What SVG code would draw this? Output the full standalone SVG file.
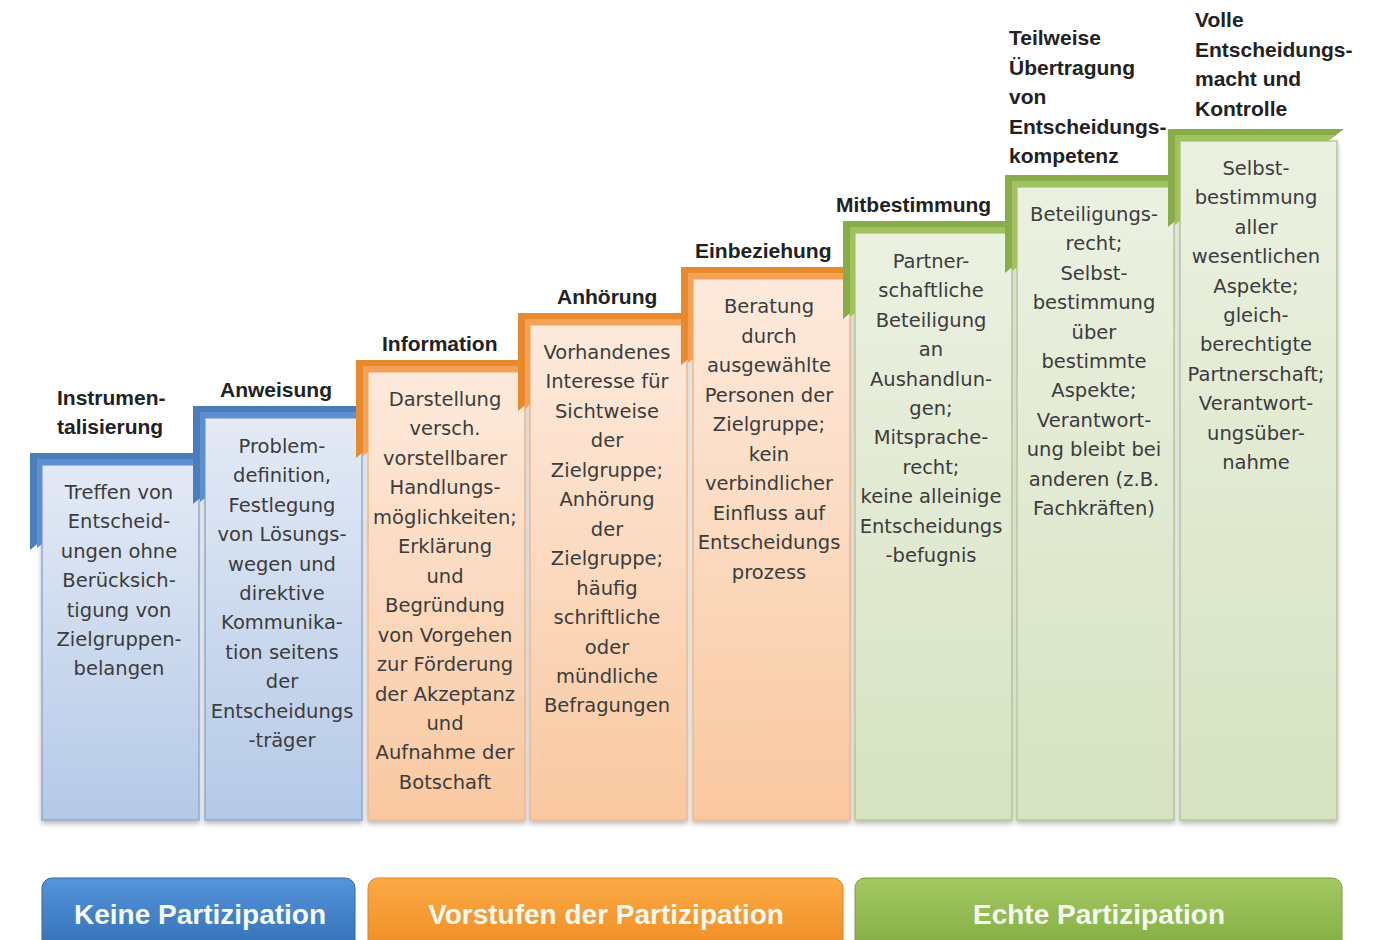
<svg xmlns="http://www.w3.org/2000/svg" width="1379" height="940" viewBox="0 0 1379 940">
  <defs>
    <linearGradient id="boxBlue" x1="0" y1="0" x2="0" y2="1">
      <stop offset="0" stop-color="#e3eaf5"/>
      <stop offset="1" stop-color="#b5c9e7"/>
    </linearGradient>
    <linearGradient id="boxOrange" x1="0" y1="0" x2="0" y2="1">
      <stop offset="0" stop-color="#fdeadc"/>
      <stop offset="1" stop-color="#f9c8a0"/>
    </linearGradient>
    <linearGradient id="boxGreen" x1="0" y1="0" x2="0" y2="1">
      <stop offset="0" stop-color="#ebf1e1"/>
      <stop offset="1" stop-color="#d6e2c2"/>
    </linearGradient>
    <linearGradient id="btnBlue" x1="0" y1="0" x2="0" y2="1">
      <stop offset="0" stop-color="#5595da"/>
      <stop offset="1" stop-color="#2f6cb3"/>
    </linearGradient>
    <linearGradient id="btnOrange" x1="0" y1="0" x2="0" y2="1">
      <stop offset="0" stop-color="#fbaa45"/>
      <stop offset="1" stop-color="#ef8a20"/>
    </linearGradient>
    <linearGradient id="btnGreen" x1="0" y1="0" x2="0" y2="1">
      <stop offset="0" stop-color="#a4c963"/>
      <stop offset="1" stop-color="#7eaa3d"/>
    </linearGradient>
    <filter id="shadow" x="-10%" y="-10%" width="120%" height="120%">
      <feDropShadow dx="0" dy="3" stdDeviation="2.5" flood-color="#000" flood-opacity="0.28"/>
    </filter>
  </defs>
  <style>
    .body { font-family: "DejaVu Sans", "Liberation Sans", sans-serif; font-size: 19.5px; fill: #3c3c3c; text-anchor: middle; }
    .head { font-family: "Liberation Sans", Arial, sans-serif; font-size: 21px; font-weight: bold; fill: #222; }
    .btn { font-family: "Liberation Sans", Arial, sans-serif; font-size: 28px; font-weight: bold; fill: #f6f8f2; text-anchor: middle; }
    .bBlue { fill: url(#boxBlue); stroke: #8faad2; stroke-width: 1.5; }
    .bOrange { fill: url(#boxOrange); stroke: #efb88c; stroke-width: 1.5; }
    .bGreen { fill: url(#boxGreen); stroke: #b4c98f; stroke-width: 1.5; }
    .fBlueA { fill: #4a7dbd; } .fBlueB { fill: #5e90cf; }
    .fOrangeA { fill: #e8892c; } .fOrangeB { fill: #f3a257; }
    .fGreenA { fill: #88ad46; } .fGreenB { fill: #a0c261; }
  </style>

  <!-- Step 1: Instrumentalisierung -->
  <g id="step1">
    <rect class="bBlue" x="42" y="465" width="157" height="355" filter="url(#shadow)"/>
    <polygon class="fBlueA" points="30,453 205,453 200,465 42,465 42,540 30,550"/>
    <polygon class="fBlueB" points="37,459 202,459 200,465 42,465 42,544 37,548"/>
    <text class="head" x="57" y="405">Instrumen-<tspan x="57" dy="29">talisierung</tspan></text>
    <text class="body" x="119" y="499">Treffen von<tspan x="119" dy="29.4">Entscheid-</tspan><tspan x="119" dy="29.4">ungen ohne</tspan><tspan x="119" dy="29.4">Berücksich-</tspan><tspan x="119" dy="29.4">tigung von</tspan><tspan x="119" dy="29.4">Zielgruppen-</tspan><tspan x="119" dy="29.4">belangen</tspan></text>
  </g>

  <!-- Step 2: Anweisung -->
  <g id="step2">
    <rect class="bBlue" x="205" y="418" width="157" height="402" filter="url(#shadow)"/>
    <polygon class="fBlueA" points="193,406 367,406 362,418 205,418 205,494 193,504"/>
    <polygon class="fBlueB" points="200,412 364,412 362,418 205,418 205,498 200,502"/>
    <text class="head" x="220" y="397">Anweisung</text>
    <text class="body" x="282" y="453">Problem-<tspan x="282" dy="29.4">definition,</tspan><tspan x="282" dy="29.4">Festlegung</tspan><tspan x="282" dy="29.4">von Lösungs-</tspan><tspan x="282" dy="29.4">wegen und</tspan><tspan x="282" dy="29.4">direktive</tspan><tspan x="282" dy="29.4">Kommunika-</tspan><tspan x="282" dy="29.4">tion seitens</tspan><tspan x="282" dy="29.4">der</tspan><tspan x="282" dy="29.4">Entscheidungs</tspan><tspan x="282" dy="29.4">-träger</tspan></text>
  </g>

  <!-- Step 3: Information -->
  <g id="step3">
    <rect class="bOrange" x="368" y="372" width="157" height="448" filter="url(#shadow)"/>
    <polygon class="fOrangeA" points="356,360 530,360 525,372 368,372 368,448 356,458"/>
    <polygon class="fOrangeB" points="363,366 527,366 525,372 368,372 368,452 363,456"/>
    <text class="head" x="382" y="351">Information</text>
    <text class="body" x="445" y="406">Darstellung<tspan x="445" dy="29.45">versch.</tspan><tspan x="445" dy="29.45">vorstellbarer</tspan><tspan x="445" dy="29.45">Handlungs-</tspan><tspan x="445" dy="29.45">möglichkeiten;</tspan><tspan x="445" dy="29.45">Erklärung</tspan><tspan x="445" dy="29.45">und</tspan><tspan x="445" dy="29.45">Begründung</tspan><tspan x="445" dy="29.45">von Vorgehen</tspan><tspan x="445" dy="29.45">zur Förderung</tspan><tspan x="445" dy="29.45">der Akzeptanz</tspan><tspan x="445" dy="29.45">und</tspan><tspan x="445" dy="29.45">Aufnahme der</tspan><tspan x="445" dy="29.45">Botschaft</tspan></text>
  </g>

  <!-- Step 4: Anhörung -->
  <g id="step4">
    <rect class="bOrange" x="530" y="325" width="157" height="495" filter="url(#shadow)"/>
    <polygon class="fOrangeA" points="518,313 692,313 687,325 530,325 530,401 518,411"/>
    <polygon class="fOrangeB" points="525,319 689,319 687,325 530,325 530,405 525,409"/>
    <text class="head" x="557" y="304">Anhörung</text>
    <text class="body" x="607" y="359">Vorhandenes<tspan x="607" dy="29.45">Interesse für</tspan><tspan x="607" dy="29.45">Sichtweise</tspan><tspan x="607" dy="29.45">der</tspan><tspan x="607" dy="29.45">Zielgruppe;</tspan><tspan x="607" dy="29.45">Anhörung</tspan><tspan x="607" dy="29.45">der</tspan><tspan x="607" dy="29.45">Zielgruppe;</tspan><tspan x="607" dy="29.45">häufig</tspan><tspan x="607" dy="29.45">schriftliche</tspan><tspan x="607" dy="29.45">oder</tspan><tspan x="607" dy="29.45">mündliche</tspan><tspan x="607" dy="29.45">Befragungen</tspan></text>
  </g>

  <!-- Step 5: Einbeziehung -->
  <g id="step5">
    <rect class="bOrange" x="693" y="279" width="157" height="541" filter="url(#shadow)"/>
    <polygon class="fOrangeA" points="681,267 855,267 850,279 693,279 693,355 681,365"/>
    <polygon class="fOrangeB" points="688,273 852,273 850,279 693,279 693,359 688,363"/>
    <text class="head" x="695" y="258">Einbeziehung</text>
    <text class="body" x="769" y="313">Beratung<tspan x="769" dy="29.5">durch</tspan><tspan x="769" dy="29.5">ausgewählte</tspan><tspan x="769" dy="29.5">Personen der</tspan><tspan x="769" dy="29.5">Zielgruppe;</tspan><tspan x="769" dy="29.5">kein</tspan><tspan x="769" dy="29.5">verbindlicher</tspan><tspan x="769" dy="29.5">Einfluss auf</tspan><tspan x="769" dy="29.5">Entscheidungs</tspan><tspan x="769" dy="29.5">prozess</tspan></text>
  </g>

  <!-- Step 6: Mitbestimmung -->
  <g id="step6">
    <rect class="bGreen" x="855" y="233" width="157" height="587" filter="url(#shadow)"/>
    <polygon class="fGreenA" points="843,221 1017,221 1012,233 855,233 855,309 843,319"/>
    <polygon class="fGreenB" points="850,227 1014,227 1012,233 855,233 855,313 850,317"/>
    <text class="head" x="836" y="212">Mitbestimmung</text>
    <text class="body" x="931" y="268">Partner-<tspan x="931" dy="29.4">schaftliche</tspan><tspan x="931" dy="29.4">Beteiligung</tspan><tspan x="931" dy="29.4">an</tspan><tspan x="931" dy="29.4">Aushandlun-</tspan><tspan x="931" dy="29.4">gen;</tspan><tspan x="931" dy="29.4">Mitsprache-</tspan><tspan x="931" dy="29.4">recht;</tspan><tspan x="931" dy="29.4">keine alleinige</tspan><tspan x="931" dy="29.4">Entscheidungs</tspan><tspan x="931" dy="29.4">-befugnis</tspan></text>
  </g>

  <!-- Step 7: Teilweise Übertragung von Entscheidungskompetenz -->
  <g id="step7">
    <rect class="bGreen" x="1017" y="187" width="157" height="633" filter="url(#shadow)"/>
    <polygon class="fGreenA" points="1005,175 1179,175 1174,187 1017,187 1017,263 1005,273"/>
    <polygon class="fGreenB" points="1012,181 1176,181 1174,187 1017,187 1017,267 1012,271"/>
    <text class="head" x="1009" y="45">Teilweise<tspan x="1009" dy="29.5">Übertragung</tspan><tspan x="1009" dy="29.5">von</tspan><tspan x="1009" dy="29.5">Entscheidungs-</tspan><tspan x="1009" dy="29.5">kompetenz</tspan></text>
    <text class="body" x="1094" y="221">Beteiligungs-<tspan x="1094" dy="29.4">recht;</tspan><tspan x="1094" dy="29.4">Selbst-</tspan><tspan x="1094" dy="29.4">bestimmung</tspan><tspan x="1094" dy="29.4">über</tspan><tspan x="1094" dy="29.4">bestimmte</tspan><tspan x="1094" dy="29.4">Aspekte;</tspan><tspan x="1094" dy="29.4">Verantwort-</tspan><tspan x="1094" dy="29.4">ung bleibt bei</tspan><tspan x="1094" dy="29.4">anderen (z.B.</tspan><tspan x="1094" dy="29.4">Fachkräften)</tspan></text>
  </g>

  <!-- Step 8: Volle Entscheidungsmacht und Kontrolle -->
  <g id="step8">
    <rect class="bGreen" x="1180" y="141" width="157" height="679" filter="url(#shadow)"/>
    <polygon class="fGreenA" points="1168,129 1344,129 1328,141 1180,141 1180,217 1168,227"/>
    <polygon class="fGreenB" points="1175,135 1336,135 1328,141 1180,141 1180,221 1175,225"/>
    <text class="head" x="1195" y="27">Volle<tspan x="1195" dy="29.5">Entscheidungs-</tspan><tspan x="1195" dy="29.5">macht und</tspan><tspan x="1195" dy="29.5">Kontrolle</tspan></text>
    <text class="body" x="1256" y="175">Selbst-<tspan x="1256" dy="29.4">bestimmung</tspan><tspan x="1256" dy="29.4">aller</tspan><tspan x="1256" dy="29.4">wesentlichen</tspan><tspan x="1256" dy="29.4">Aspekte;</tspan><tspan x="1256" dy="29.4">gleich-</tspan><tspan x="1256" dy="29.4">berechtigte</tspan><tspan x="1256" dy="29.4">Partnerschaft;</tspan><tspan x="1256" dy="29.4">Verantwort-</tspan><tspan x="1256" dy="29.4">ungsüber-</tspan><tspan x="1256" dy="29.4">nahme</tspan></text>
  </g>

  <!-- Category bars along the bottom -->
  <g id="cat-keine">
    <rect x="42" y="878" width="313" height="80" rx="10" fill="url(#btnBlue)" stroke="#2d67aa" stroke-width="1"/>
    <text class="btn" x="200" y="924">Keine Partizipation</text>
  </g>
  <g id="cat-vorstufen">
    <rect x="368" y="878" width="475" height="80" rx="10" fill="url(#btnOrange)" stroke="#e0821c" stroke-width="1"/>
    <text class="btn" x="606" y="924">Vorstufen der Partizipation</text>
  </g>
  <g id="cat-echte">
    <rect x="855" y="878" width="487" height="80" rx="10" fill="url(#btnGreen)" stroke="#77a037" stroke-width="1"/>
    <text class="btn" x="1099" y="924">Echte Partizipation</text>
  </g>

  <g id="connectors"/>
</svg>
